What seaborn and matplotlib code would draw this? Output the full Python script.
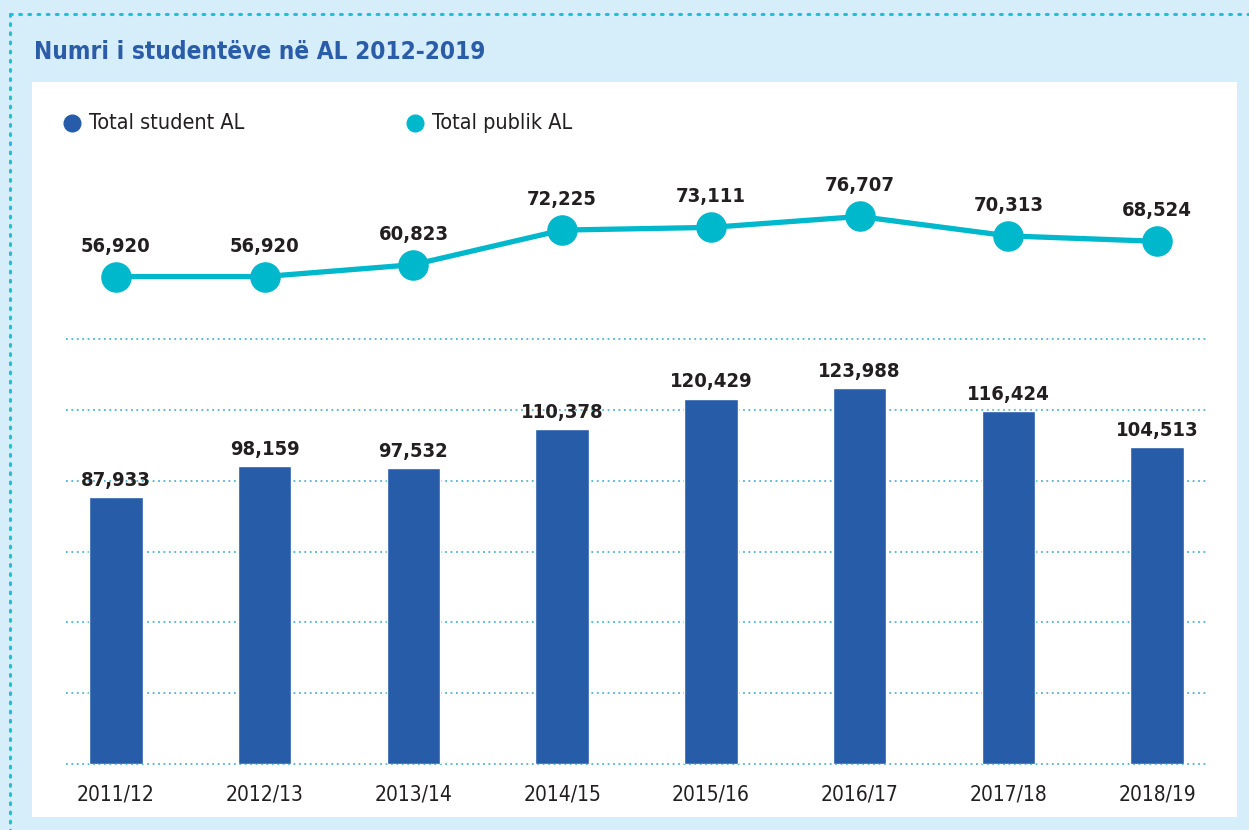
#!/usr/bin/env python3
import numpy as np
import pandas as pd
import seaborn as sns
import matplotlib.pyplot as plt
from matplotlib.lines import Line2D
from matplotlib.patches import Rectangle

# data
years = ["2011/12", "2012/13", "2013/14", "2014/15", "2015/16", "2016/17", "2017/18", "2018/19"]
total_student = [87933, 98159, 97532, 110378, 120429, 123988, 116424, 104513]
total_publik = [56920, 56920, 60823, 72225, 73111, 76707, 70313, 68524]

title = "Numri i studentëve në AL 2012-2019"
legend_labels = ["Total student AL", "Total publik AL"]

BAR = "#275ca9"
LINE = "#00b8cc"
BG = "#d6edfa"
GRID = "#4fb3cf"
TXT = "#231f20"

sns.set_style("white")
plt.rcParams["font.family"] = ["DejaVu Sans"]
plt.rcParams["font.stretch"] = "condensed"

W, H = 1249, 830
fig = plt.figure(figsize=(W / 100, H / 100), dpi=100)
fig.patch.set_facecolor(BG)


def fx(px):
    return px / W


def fy(py):
    return 1 - py / H


# white panel + dotted frame
fig.add_artist(Rectangle((fx(32), fy(817)), fx(1237) - fx(32), fy(82) - fy(817),
                         transform=fig.transFigure, facecolor="white", edgecolor="none", zorder=0))
fig.add_artist(Line2D([fx(10), 1.0], [fy(14), fy(14)], transform=fig.transFigure,
                      color="#1fc0d0", lw=2.2, linestyle=(0, (0.6, 2.4)), dash_capstyle="round"))
fig.add_artist(Line2D([fx(10), fx(10)], [fy(14), 0.0], transform=fig.transFigure,
                      color="#1fc0d0", lw=2.2, linestyle=(0, (0.6, 2.4)), dash_capstyle="round"))

fig.text(fx(34), fy(52), title, fontsize=17.5, fontweight="bold", color="#2a5ca8", va="center")

# legend drawn by hand
for (dx, label, col) in [(72, legend_labels[0], BAR), (415, legend_labels[1], LINE)]:
    fig.add_artist(Line2D([fx(dx)], [fy(123)], transform=fig.transFigure, marker="o",
                          markersize=12, color=col, linestyle="none"))
    fig.text(fx(dx + 17), fy(123), label, fontsize=15.5, color=TXT, va="center")

# axes
ax = fig.add_axes([fx(66), fy(764), fx(1207) - fx(66), fy(150) - fy(764)])
ax.patch.set_visible(False)
df = pd.DataFrame({"year": years, "student": total_student, "publik": total_publik})

upp = 329.5  # units per pixel
span = (764 - 150) * upp
ax.set_ylim(0, span)
for g in np.linspace(0, 140000, 7):
    ax.axhline(g, color=GRID, lw=1.3, linestyle=(0, (1, 2)), zorder=1, clip_on=False)

sns.barplot(data=df, x="year", y="student", color=BAR, width=0.36, saturation=1,
            ax=ax, zorder=2)
ax.set_xlim(-0.336, len(years) - 1 + 0.336)
for i, v in enumerate(total_student):
    ax.annotate(f"{v:,}", (i, v), xytext=(0, 8), textcoords="offset points",
                ha="center", va="baseline", fontsize=14.5, fontweight="bold", color=TXT)

ax.set_yticks([])
ax.set_xlabel("")
ax.set_ylabel("")
ax.tick_params(axis="x", length=0, pad=15, labelsize=15, labelcolor=TXT)
sns.despine(ax=ax, left=True, bottom=True)

ax2 = ax.twinx()
ax2.set_ylim(-103700, -103700 + span)
sns.lineplot(x=np.arange(len(years)), y=total_publik, color=LINE, lw=3.8, marker="o",
             markersize=22, markeredgewidth=0, ax=ax2)
for i, v in enumerate(total_publik):
    ax2.annotate(f"{v:,}", (i, v), xytext=(0, 18), textcoords="offset points",
                 ha="center", va="baseline", fontsize=14.5, fontweight="bold", color=TXT)
ax2.set_yticks([])
ax2.set_ylabel("")
ax2.set_xlim(ax.get_xlim())
sns.despine(ax=ax2, left=True, bottom=True, right=True)

fig.savefig("out.png", dpi=100, facecolor=BG)
